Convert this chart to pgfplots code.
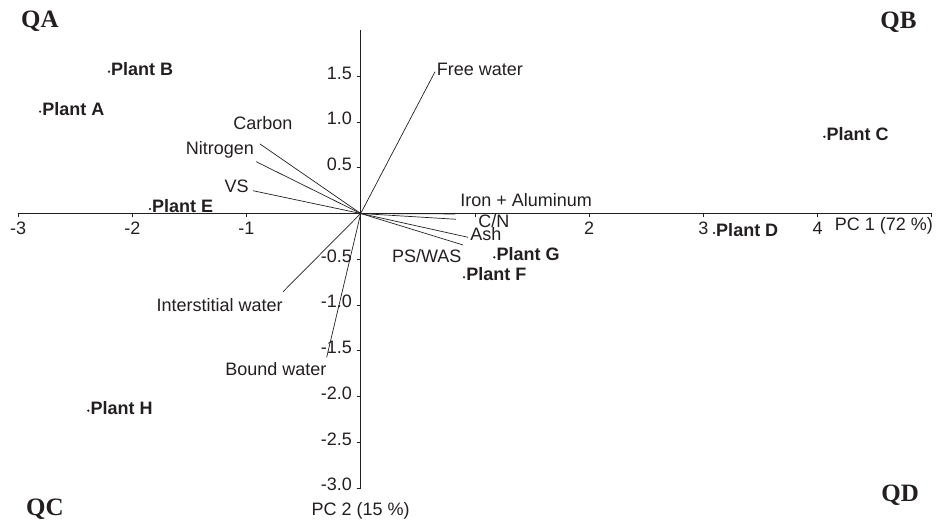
\documentclass[border=0pt]{standalone}
\usepackage{fontspec}
\setmainfont{Liberation Sans}
\newfontfamily\qfont{Liberation Serif}
\usepackage{pgfplots}
\pgfplotsset{compat=1.18}
\definecolor{ink}{RGB}{35,31,32}
\newcommand\fsz{\fontsize{18}{21}\selectfont}
\begin{document}
\begin{tikzpicture}[font=\fsz]
\useasboundingbox (-360.7pt,-312.5pt) rectangle (580.3pt,213.5pt);
\begin{axis}[
  x=114.2pt, y=91.5pt, anchor=origin, at={(0pt,0pt)},
  xmin=-3, xmax=5, ymin=-3, ymax=2,
  enlargelimits=false, clip=false,
  axis lines=middle,
  axis line style={-, line width=0.9pt, ink},
  xtick={-3,-2,-1,1,2,3,4,5},
  xticklabels={-3,-2,-1,{},2,3,4,{}},
  ytick={-3,-2.5,-2,-1.5,-1,-0.5,0.5,1,1.5},
  yticklabels={-3.0,-2.5,-2.0,-1.5,-1.0,-0.5,0.5,1.0,1.5},
  tick align=outside, major tick length=4pt,
  tick style={ink, line width=0.8pt},
  xticklabel style={font=\fsz, text=ink, anchor=base, inner sep=0pt, yshift=-17pt},
  yticklabel style={font=\fsz, text=ink, anchor=base east, inner sep=0pt, xshift=-4.5pt, yshift=-3pt},
]
% loading vectors
\addplot[ink, line width=0.7pt] coordinates {(0,0) (0.651,1.550)}
  node[pos=1, anchor=base west, inner sep=0pt, xshift=1.5pt, yshift=-4pt, text=ink]{Free water};
\addplot[ink, line width=0.7pt] coordinates {(0,0) (-0.882,0.760)}
  node[pos=1, anchor=base, inner sep=0pt, xshift=3pt, yshift=14pt, text=ink]{Carbon};
\addplot[ink, line width=0.7pt] coordinates {(0,0) (-0.915,0.566)}
  node[pos=1, anchor=base east, inner sep=0pt, xshift=-2pt, yshift=7.7pt, text=ink]{Nitrogen};
\addplot[ink, line width=0.7pt] coordinates {(0,0) (-0.943,0.249)}
  node[pos=1, anchor=base east, inner sep=0pt, xshift=-4pt, yshift=-1.3pt, text=ink]{VS};
\addplot[ink, line width=0.7pt] coordinates {(0,0) (0.826,-0.005)}
  node[pos=1, anchor=base west, inner sep=0pt, xshift=5pt, yshift=7.5pt, text=ink]{Iron + Aluminum};
\addplot[ink, line width=0.7pt] coordinates {(0,0) (0.834,-0.063)}
  node[pos=1, anchor=base west, inner sep=0pt, xshift=22pt, yshift=-8.3pt, text=ink]{C/N};
\addplot[ink, line width=0.7pt] coordinates {(0,0) (0.940,-0.260)}
  node[pos=1, anchor=base west, inner sep=0pt, xshift=2pt, yshift=-3.7pt, text=ink]{Ash};
\addplot[ink, line width=0.7pt] coordinates {(0,0) (0.896,-0.344)}
  node[pos=1, anchor=base east, inner sep=0pt, xshift=-1.3pt, yshift=-17.3pt, text=ink]{PS/WAS};
\addplot[ink, line width=0.7pt] coordinates {(0,0) (-0.680,-0.855)}
  node[pos=1, anchor=base east, inner sep=0pt, xshift=0pt, yshift=-20pt, text=ink]{Interstitial water};
\addplot[ink, line width=0.7pt] coordinates {(0,0) (-0.298,-1.572)}
  node[pos=1, anchor=base east, inner sep=0pt, xshift=0pt, yshift=-17.7pt, text=ink]{Bound water};
% plants (scores)
\addplot[only marks, mark=*, mark size=0.9pt, ink,
  nodes near coords, point meta=explicit symbolic,
  every node near coord/.append style={anchor=base west, inner sep=0pt,
    xshift=2pt, yshift=-3.5pt, font=\fsz\bfseries, text=ink}]
  table[meta=label, col sep=comma] {
x,y,label
-2.807,1.113,Plant A
-2.204,1.550,Plant B
4.060,0.839,Plant C
3.094,-0.213,Plant D
-1.845,0.049,Plant E
0.905,-0.697,Plant F
1.170,-0.479,Plant G
-2.385,-2.155,Plant H
};
% axis titles
\node[anchor=base east, inner sep=0pt, text=ink] at (axis cs:5,0) [yshift=-17pt, xshift=1.5pt] {PC 1 (72 \%)};
\node[anchor=base, inner sep=0pt, text=ink] at (axis cs:0,-3) [yshift=-27.5pt] {PC 2 (15 \%)};
\end{axis}
% quadrant labels
\node[anchor=base west, inner sep=0pt, text=ink, font=\qfont\bfseries\fontsize{25}{28}\selectfont] at (-339.7pt,185.5pt) {QA};
\node[anchor=base east, inner sep=0pt, text=ink, font=\qfont\bfseries\fontsize{25}{28}\selectfont] at (556pt,185pt) {QB};
\node[anchor=base west, inner sep=0pt, text=ink, font=\qfont\bfseries\fontsize{25}{28}\selectfont] at (-334.7pt,-301.5pt) {QC};
\node[anchor=base east, inner sep=0pt, text=ink, font=\qfont\bfseries\fontsize{25}{28}\selectfont] at (558.3pt,-288.2pt) {QD};
\end{tikzpicture}
\end{document}
